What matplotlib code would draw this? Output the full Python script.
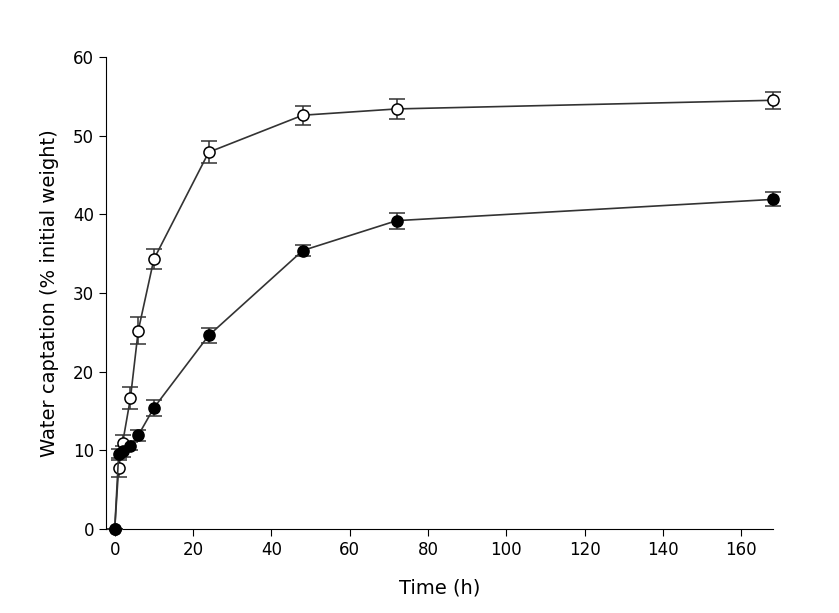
import matplotlib
matplotlib.use("Agg")
import matplotlib.pyplot as plt

t = [0, 1, 2, 4, 6, 10, 24, 48, 72, 168]
open_vals = [0, 7.8, 10.9, 16.6, 25.2, 34.3, 47.9, 52.6, 53.4, 54.5]
open_err = [0, 1.2, 1.0, 1.4, 1.7, 1.3, 1.4, 1.2, 1.3, 1.1]
filled_vals = [0, 9.5, 9.9, 10.6, 11.9, 15.4, 24.6, 35.4, 39.2, 41.9]
filled_err = [0, 0.7, 0.7, 0.5, 0.7, 1.0, 1.0, 0.7, 1.0, 0.9]

fig = plt.figure(figsize=(8.39, 6.13), dpi=100)
ax = fig.add_axes([0.126, 0.137, 0.795, 0.77])
for v, e, fc in [(open_vals, open_err, 'white'), (filled_vals, filled_err, 'black')]:
    ax.errorbar(t, v, yerr=e, color='#333333', lw=1.2, marker='o', ms=8,
                mfc=fc, mec='black', mew=1.1, capsize=6, capthick=1.1,
                elinewidth=1.1, clip_on=False, zorder=3)
ax.set_xlim(-2.3, 168)
ax.set_ylim(0, 60)
ax.set_xticks(range(0, 161, 20))
ax.set_yticks(range(0, 61, 10))
for s in ['top', 'right']:
    ax.spines[s].set_visible(False)
ax.tick_params(labelsize=12, direction='out', length=5)
ax.set_xlabel('Time (h)', fontsize=14, labelpad=14)
ax.set_ylabel('Water captation (% initial weight)', fontsize=14, labelpad=10)
fig.savefig('out.png', dpi=100)
